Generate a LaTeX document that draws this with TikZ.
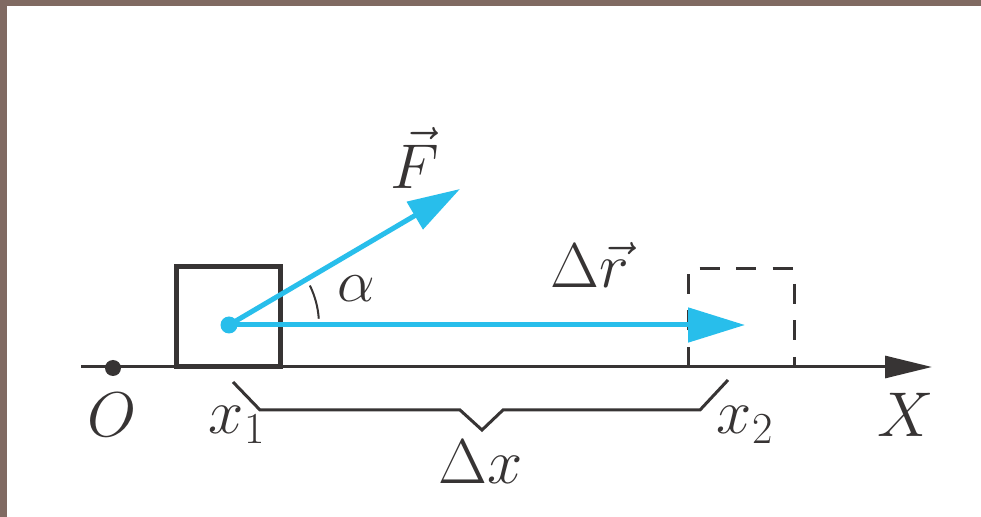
\documentclass[tikz,border=0pt]{standalone}
\usepackage{fix-cm}
\usetikzlibrary{arrows.meta}
\definecolor{vecblue}{RGB}{40,190,235}
\definecolor{inkgray}{RGB}{55,52,52}
\definecolor{framebrown}{RGB}{128,106,98}
\begin{document}
\begin{tikzpicture}[
  lbl/.style={font=\fontsize{36}{40}\selectfont, text=inkgray, inner sep=0pt},
  vecarrow/.style={draw=vecblue, line width=0.1cm, -{Triangle[length=1.14cm, width=0.68cm]}},
  box/.style={draw=inkgray, line width=0.1cm, minimum width=2.08cm, minimum height=2cm, inner sep=0pt}]
\fill[framebrown] (0,0) rectangle (19.62,-10.34);
\fill[white] (0.14,-0.12) rectangle (19.62,-10.34);
\useasboundingbox (0,0) rectangle (19.62,-10.34);

\coordinate (axisstart) at (1.62,-7.34);
\coordinate (axisend) at (18.64,-7.34);
\draw[inkgray, line width=0.06cm, -{Triangle[length=0.94cm, width=0.44cm]}] (axisstart) -- (axisend);

\node[circle, fill=inkgray, minimum size=0.32cm, inner sep=0pt] (origin) at (2.26,-7.36) {};
\node[lbl] (olabel) at (2.24,-8.3) {$O$};
\node[lbl] (xlabel) at (18.12,-8.3) {$X$};

\node[box] (block) at (4.56,-6.34) {};
\draw[inkgray, line width=0.06cm, dash pattern=on 0.4cm off 0.33cm]
  (13.76,-7.34) |- (15.88,-5.38) -- (15.88,-7.34);

\node[circle, fill=vecblue, minimum size=0.34cm, inner sep=0pt] (dot) at (4.58,-6.5) {};
\coordinate (rtip) at (14.9,-6.5);
\coordinate (ftip) at (9.2,-3.78);
\draw[vecarrow] (dot.center) -- (rtip);
\draw[vecarrow, -{Triangle[length=1.05cm, width=0.62cm]}] (dot.center) -- (ftip);
\draw[inkgray, line width=0.04cm] ([shift={(4:1.8)}]dot.center) arc (4:26:1.8);

\node[lbl] (flabel) at (8.3,-3.15) {$\vec{F}$};
\node[lbl] (rlabel) at (11.8,-5.3) {$\Delta\vec{r}$};
\node[lbl, font=\fontsize{34}{38}\selectfont] (alabel) at (7.12,-5.78) {$\alpha$};

\coordinate (bl) at (4.66,-7.64);
\coordinate (br) at (14.56,-7.6);
\draw[inkgray, line width=0.06cm] (bl) -- (5.2,-8.2) -- (9.2,-8.2) -- (9.64,-8.6)
  -- (10.06,-8.2) -- (14,-8.2) -- (br);

\node[lbl] (xone) at (4.74,-8.5) {$x_1$};
\node[lbl] (xtwo) at (14.9,-8.5) {$x_2$};
\node[lbl] (dxlabel) at (9.62,-9.24) {$\Delta x$};
\end{tikzpicture}
\end{document}
